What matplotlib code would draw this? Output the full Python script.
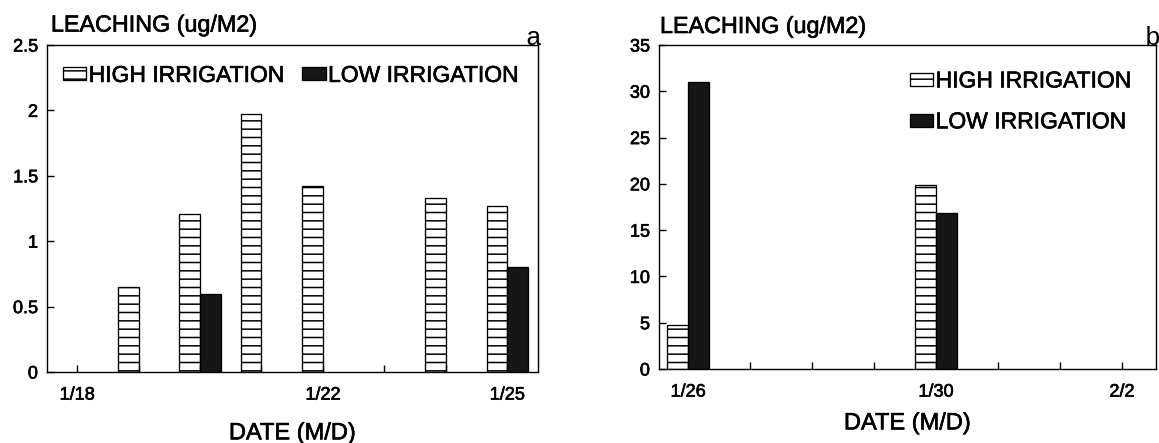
import matplotlib
matplotlib.use('Agg')
import matplotlib.pyplot as plt
import matplotlib.patheffects as pe

plt.rcParams['font.family'] = ['Liberation Sans', 'DejaVu Sans']
plt.rcParams['hatch.linewidth'] = 1.1

# ---------------- data ----------------
dates_a = ['1/18', '1/19', '1/20', '1/21', '1/22', '1/23', '1/24', '1/25']
ticklabels_a = ['1/18', '', '', '', '1/22', '', '', '1/25']
high_a_dates = ['1/19', '1/20', '1/21', '1/22', '1/24', '1/25']
high_a = [0.65, 1.21, 1.97, 1.42, 1.33, 1.27]
low_a_dates = ['1/20', '1/25']
low_a = [0.60, 0.80]
yticks_a = [0, 0.5, 1, 1.5, 2, 2.5]
yticklabels_a = ['0', '0.5', '1', '1.5', '2', '2.5']

dates_b = ['1/26', '1/27', '1/28', '1/29', '1/30', '1/31', '2/1', '2/2']
ticklabels_b = ['1/26', '', '', '', '1/30', '', '', '2/2']
high_b_dates = ['1/26', '1/30']
high_b = [4.8, 19.9]
low_b_dates = ['1/26', '1/30']
low_b = [31.0, 16.8]
yticks_b = [0, 5, 10, 15, 20, 25, 30, 35]
yticklabels_b = ['0', '5', '10', '15', '20', '25', '30', '35']

series_names = ['HIGH IRRIGATION', 'LOW IRRIGATION']
ylabel_text = 'LEACHING (ug/M2)'
xlabel_text = 'DATE (M/D)'

# ---------------- figure ----------------
fig = plt.figure(figsize=(11.59, 4.43), dpi=100)
W, H = 1159, 443
heavy = [pe.withStroke(linewidth=0.45, foreground='black')]


def make_axes(l, r, t, b):
    return fig.add_axes([l / W, (H - b) / H, (r - l) / W, (b - t) / H])


ax_a = make_axes(47, 538, 45, 372)
ax_b = make_axes(659, 1156, 45, 369)

bw = 0.335
high_style = dict(facecolor='white', edgecolor='black', hatch='--', linewidth=0.95)
low_style = dict(facecolor='#161616', edgecolor='black', linewidth=0.95)


def draw_panel(ax, dates, ticklabels, hd, hv, ld, lv, yticks, ytl, ylim, xlim, xlpad):
    hx = [dates.index(d) - bw / 2 for d in hd]
    lx = [dates.index(d) + bw / 2 for d in ld]
    ax.bar(hx, hv, width=bw, label=series_names[0], **high_style)
    ax.bar(lx, lv, width=bw, label=series_names[1], **low_style)
    ax.set_xlim(*xlim)
    ax.set_ylim(*ylim)
    ax.set_xticks(range(len(dates)))
    ax.set_xticklabels(ticklabels)
    ax.set_yticks(yticks)
    ax.set_yticklabels(ytl)
    ax.tick_params(axis='both', direction='in', length=5, width=1.0,
                   labelsize=13, colors='black')
    ax.tick_params(axis='x', pad=10.5)
    ax.tick_params(axis='y', pad=6.5)
    for lbl in ax.get_xticklabels() + ax.get_yticklabels():
        lbl.set_path_effects(heavy)
    for s in ax.spines.values():
        s.set_linewidth(1.0)
        s.set_color('black')
    xl = ax.set_xlabel(xlabel_text, fontsize=17, labelpad=xlpad)
    xl.set_path_effects(heavy)


draw_panel(ax_a, dates_a, ticklabels_a, high_a_dates, high_a, low_a_dates, low_a,
           yticks_a, yticklabels_a, (0, 2.5), (-0.49, 7.5), 13.5)
draw_panel(ax_b, dates_b, ticklabels_b, high_b_dates, high_b, low_b_dates, low_b,
           yticks_b, yticklabels_b, (0, 35), (-0.47, 7.55), 8.5)

leg_kw = dict(frameon=False, fontsize=16.5, handlelength=1.02, handleheight=0.49,
              handletextpad=0.1, borderpad=0, borderaxespad=0)
leg_a = ax_a.legend(loc='center left', bbox_to_anchor=(0.0326, 0.907), ncol=2,
                    columnspacing=0.8, **leg_kw)
leg_b = ax_b.legend(loc='center left', bbox_to_anchor=(0.505, 0.826), ncol=1,
                    labelspacing=0.78, **leg_kw)
for leg in (leg_a, leg_b):
    for t in leg.get_texts():
        t.set_path_effects(heavy)

# axis titles above the frames
for ax, x, y in ((ax_a, 0.008, 1.041), (ax_b, 0.002, 1.037)):
    t = ax.text(x, y, ylabel_text, transform=ax.transAxes, fontsize=16.8,
                ha='left', va='baseline')
    t.set_path_effects(heavy)

# panel letters
ax_a.text(0.99, 1.0, 'a', transform=ax_a.transAxes, fontsize=19,
          family=['Liberation Mono', 'DejaVu Sans Mono'], ha='center', va='baseline',
          clip_on=False)
ax_b.text(0.978, 1.0, 'b', transform=ax_b.transAxes, fontsize=19,
          family=['Liberation Mono', 'DejaVu Sans Mono'], ha='left', va='baseline',
          clip_on=False)

fig.savefig('out.png', dpi=100)
